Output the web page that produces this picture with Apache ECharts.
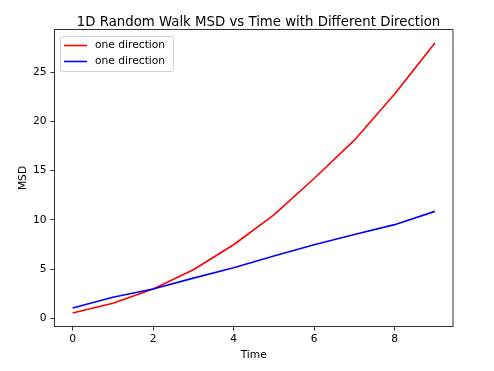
<!DOCTYPE html>
<html>
<head>
<meta charset="utf-8">
<script src="https://cdn.jsdelivr.net/npm/echarts@6/dist/echarts.min.js"></script>
<style>
html,body{margin:0;padding:0;background:#fff;}
#chart{width:494px;height:371px;}
</style>
</head>
<body>
<div id="chart"></div>
<script>
var titleText = '1D Random Walk MSD vs Time with Different Direction';
var xName = 'Time';
var yName = 'MSD';
var time = [0, 1, 2, 3, 4, 5, 6, 7, 8, 9];
var redName = 'one direction';
var redMSD = [0.5, 1.5, 2.95, 4.9, 7.45, 10.5, 14.2, 18.1, 22.8, 28.0];
var blueName = 'one direction';
var blueMSD = [1.0, 2.1, 2.95, 4.05, 5.1, 6.3, 7.45, 8.5, 9.5, 10.85];
var xTicks = [0, 2, 4, 6, 8];
var yTicks = [0, 5, 10, 15, 20, 25];

var font = 'DejaVu Sans';
var chart = echarts.init(document.getElementById('chart'), null, {renderer: 'canvas'});
function pairs(xs, ys) { return xs.map(function (x, i) { return [x, ys[i]]; }); }

chart.setOption({
  backgroundColor: '#fff',
  animation: false,
  title: {
    text: titleText,
    left: 253.5, textAlign: 'center', top: 11,
    textStyle: {fontFamily: font, fontSize: 13.3, fontWeight: 'normal', color: '#000'}
  },
  grid: {left: 54.5, right: 41, top: 29.5, bottom: 44.5, show: true, borderColor: '#333', borderWidth: 1, containLabel: false},
  graphic: [{
    type: 'rect', left: 60, top: 36, z: 3,
    shape: {width: 113, height: 35, r: 2},
    style: {fill: 'rgba(255,255,255,0.8)', stroke: '#d0d0d0', lineWidth: 1}
  }],
  legend: [{
    orient: 'vertical', left: 64, top: 40, padding: 0, itemGap: 0,
    icon: 'rect', itemWidth: 23, itemHeight: 1.6,
    textStyle: {fontFamily: font, fontSize: 10.7, color: '#000', padding: [0, 0, 0, 3]},
    data: [{name: redName, itemStyle: {color: 'red'}}],
    selectedMode: false
  }, {
    orient: 'vertical', left: 64, top: 56, padding: 0, itemGap: 0,
    icon: 'rect', itemWidth: 23, itemHeight: 1.6,
    textStyle: {fontFamily: font, fontSize: 10.7, color: '#000', padding: [0, 0, 0, 3]},
    data: [{name: blueName, itemStyle: {color: 'blue'}}],
    selectedMode: false
  }],
  xAxis: {
    type: 'value', min: -0.45, max: 9.45,
    name: xName, nameLocation: 'middle', nameGap: 23, nameMoveOverlap: false,
    nameTextStyle: {fontFamily: font, fontSize: 10.7, color: '#000'},
    axisLine: {show: true, onZero: false, lineStyle: {color: '#333', width: 1}},
    axisTick: {show: true, length: 4, customValues: xTicks, lineStyle: {color: '#333'}},
    axisLabel: {customValues: xTicks, margin: 7, fontFamily: font, fontSize: 10.7, color: '#000'},
    splitLine: {show: false}
  },
  yAxis: {
    type: 'value', min: -0.875, max: 29.375,
    name: yName, nameLocation: 'middle', nameGap: 26, nameRotate: 90, nameMoveOverlap: false,
    nameTextStyle: {fontFamily: font, fontSize: 10.7, color: '#000'},
    axisLine: {show: true, onZero: false, lineStyle: {color: '#333', width: 1}},
    axisTick: {show: true, length: 4, customValues: yTicks, lineStyle: {color: '#333'}},
    axisLabel: {customValues: yTicks, margin: 8, fontFamily: font, fontSize: 10.7, color: '#000'},
    splitLine: {show: false}
  },
  series: [{
    name: redName, type: 'line', data: pairs(time, redMSD),
    showSymbol: false, symbol: 'none', color: 'red',
    lineStyle: {color: 'red', width: 1.6}
  }, {
    name: blueName, type: 'line', data: pairs(time, blueMSD),
    showSymbol: false, symbol: 'none', color: 'blue',
    lineStyle: {color: 'blue', width: 1.6}
  }]
});
</script>
</body>
</html>
